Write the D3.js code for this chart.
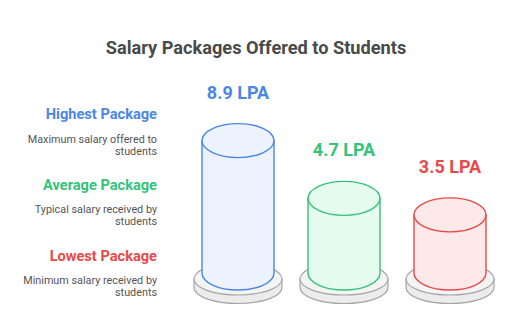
<!DOCTYPE html>
<html>
<head>
<meta charset="utf-8">
<script src="https://cdn.jsdelivr.net/npm/d3@7"></script>
<style>
  html, body { margin: 0; padding: 0; background: #ffffff; }
  svg { display: block; font-family: Roboto, "Noto Sans", sans-serif; }
</style>
</head>
<body>
<svg id="chart" width="512" height="331"></svg>
<script>
// ---- data ----
const title = "Salary Packages Offered to Students";
const categories = ["Highest Package", "Average Package", "Lowest Package"];
const descriptions = [
  ["Maximum salary offered to", "students"],
  ["Typical salary received by", "students"],
  ["Minimum salary received by", "students"]
];
const values = [8.9, 4.7, 3.5];
const valueLabels = ["8.9 LPA", "4.7 LPA", "3.5 LPA"];
const strokeColors = ["#4a86e8", "#34c37a", "#e84a4a"];
const fillColors = ["#edf3fe", "#e6fcef", "#fde9e9"];

// ---- layout ----
const svg = d3.select("#chart");
const W = 512;

svg.append("text")
  .attr("x", W / 2).attr("y", 54)
  .attr("text-anchor", "middle")
  .attr("font-size", 18.2).attr("font-weight", 700)
  .attr("fill", "#4a4a4a")
  .text(title);

const x = d3.scalePoint().domain(categories).range([238, 450]);
const bottomCy = 273;
const y = d3.scaleLinear().domain([0, 9]).range([263, 263 - 123.8]);
const rx = 36, ry = 17;
const baseRx = 44, baseRy = 16, baseCy = 279, baseT = 8.5;

// legend text (left)
const legendY = d3.scalePoint().domain(categories).range([119, 260.5]);
const lg = svg.append("g");
categories.forEach((c, i) => {
  const ty = legendY(c);
  lg.append("text")
    .attr("x", 157).attr("y", ty)
    .attr("text-anchor", "end")
    .attr("font-size", 14.6).attr("font-weight", 700)
    .attr("fill", strokeColors[i])
    .text(c);
  descriptions[i].forEach((line, j) => {
    lg.append("text")
      .attr("x", 157).attr("y", ty + 23.5 + j * 12)
      .attr("text-anchor", "end")
      .attr("font-size", 10.8)
      .attr("fill", "#555555")
      .text(line);
  });
});

// cylinders
const g = svg.append("g");
categories.forEach((c, i) => {
  const cx = x(c);
  const topCy = y(values[i]);
  // base disk: side band
  g.append("path")
    .attr("d", `M${cx - baseRx},${baseCy} L${cx - baseRx},${baseCy + baseT} A${baseRx},${baseRy} 0 0 0 ${cx + baseRx},${baseCy + baseT} L${cx + baseRx},${baseCy} Z`)
    .attr("fill", "#ececec").attr("stroke", "#a6a6a6").attr("stroke-width", 1.2);
  // base top face
  g.append("ellipse")
    .attr("cx", cx).attr("cy", baseCy).attr("rx", baseRx).attr("ry", baseRy)
    .attr("fill", "#f4f4f4").attr("stroke", "#a6a6a6").attr("stroke-width", 1.2);
  // cylinder body
  g.append("path")
    .attr("d", `M${cx - rx},${topCy} L${cx - rx},${bottomCy} A${rx},${ry} 0 0 0 ${cx + rx},${bottomCy} L${cx + rx},${topCy} Z`)
    .attr("fill", fillColors[i]).attr("stroke", strokeColors[i]).attr("stroke-width", 1.4);
  // cylinder top
  g.append("ellipse")
    .attr("cx", cx).attr("cy", topCy).attr("rx", rx).attr("ry", ry)
    .attr("fill", fillColors[i]).attr("stroke", strokeColors[i]).attr("stroke-width", 1.4);
  // value label
  g.append("text")
    .attr("x", cx).attr("y", topCy - ry - 25)
    .attr("text-anchor", "middle")
    .attr("font-size", 18).attr("font-weight", 700)
    .attr("fill", strokeColors[i])
    .text(valueLabels[i]);
});
</script>
</body>
</html>
